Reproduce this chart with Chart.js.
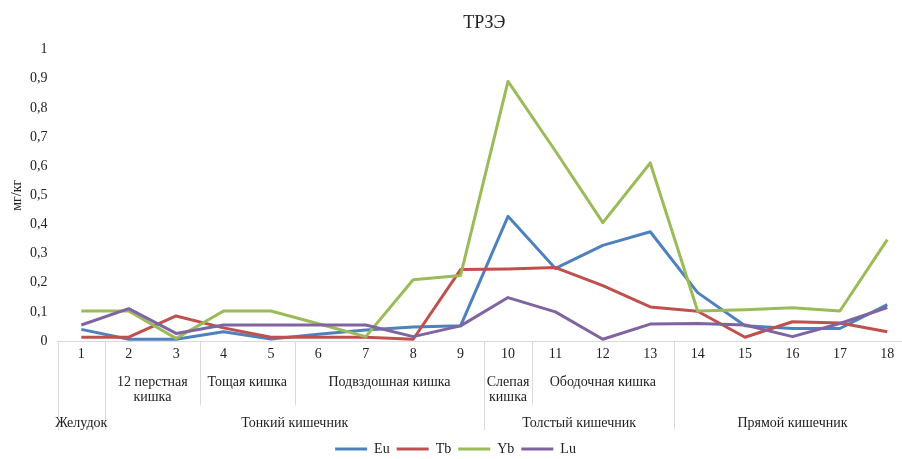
<!DOCTYPE html>
<html>
<head>
<meta charset="utf-8">
<title>ТРЗЭ</title>
<script src="https://cdn.jsdelivr.net/npm/chart.js@4.4.1/dist/chart.umd.min.js"></script>
<style>
  html, body { margin: 0; padding: 0; background: #fff; overflow: hidden; }
  #wrap { width: 911px; height: 466px; }
</style>
</head>
<body>
<div id="wrap"><canvas id="chart" width="911" height="466"></canvas></div>
<script>
// Sample numbers along the digestive tract
const categories = ['1', '2', '3', '4', '5', '6', '7', '8', '9', '10', '11', '12', '13', '14', '15', '16', '17', '18'];

// мг/кг per sample
const euValues = [0.040, 0.006, 0.006, 0.032, 0.007, 0.023, 0.038, 0.048, 0.052, 0.428, 0.249, 0.328, 0.375, 0.166, 0.052, 0.043, 0.043, 0.125];
const tbValues = [0.013, 0.013, 0.086, 0.045, 0.013, 0.013, 0.013, 0.006, 0.245, 0.247, 0.252, 0.190, 0.117, 0.102, 0.013, 0.066, 0.062, 0.032];
const ybValues = [0.103, 0.103, 0.009, 0.103, 0.103, 0.059, 0.015, 0.210, 0.225, 0.891, 0.652, 0.406, 0.611, 0.103, 0.107, 0.114, 0.103, 0.348];
const luValues = [0.055, 0.111, 0.026, 0.055, 0.055, 0.055, 0.055, 0.015, 0.052, 0.149, 0.100, 0.006, 0.058, 0.060, 0.055, 0.015, 0.060, 0.115];

// Axis groups: first sample, last sample, text lines
const sectionGroups = [
  [2, 3, ['12 перстная', 'кишка']],
  [4, 5, ['Тощая кишка']],
  [6, 9, ['Подвздошная кишка']],
  [10, 10, ['Слепая', 'кишка']],
  [11, 13, ['Ободочная кишка']]
];
const organGroups = [
  [1, 1, 'Желудок'],
  [2, 9, 'Тонкий кишечник'],
  [10, 13, 'Толстый кишечник'],
  [14, 18, 'Прямой кишечник']
];

const FONT = '"Liberation Serif", "Times New Roman", serif';
const TEXT = '#222222';
const AXIS = '#d9d9d9';

Chart.defaults.font.family = FONT;
Chart.defaults.color = TEXT;

// Draws the multi-level category axis under the numbers
const groupAxisPlugin = {
  id: 'groupAxis',
  afterDraw(chart) {
    const { ctx, chartArea, scales: { x } } = chart;
    const half = (x.getPixelForValue(1) - x.getPixelForValue(0)) / 2;
    const center = i => x.getPixelForValue(i - 1);
    const leftEdge = i => center(i) - half;
    const base = chartArea.bottom;

    ctx.save();
    ctx.strokeStyle = AXIS;
    ctx.lineWidth = 1;
    const vline = (px, len) => {
      const xx = Math.round(px) + 0.5;
      ctx.beginPath();
      ctx.moveTo(xx, base);
      ctx.lineTo(xx, base + len);
      ctx.stroke();
    };
    sectionGroups.forEach(([a, b]) => { vline(leftEdge(a), 64); vline(leftEdge(b + 1), 64); });
    organGroups.forEach(([a, b]) => { vline(leftEdge(a), 89); vline(leftEdge(b + 1), 89); });

    ctx.fillStyle = TEXT;
    ctx.font = '14px ' + FONT;
    ctx.textAlign = 'center';
    ctx.textBaseline = 'middle';
    sectionGroups.forEach(([a, b, lines]) => {
      const cx = (center(a) + center(b)) / 2;
      lines.forEach((t, k) => ctx.fillText(t, cx, base + 41 + k * 15));
    });
    organGroups.forEach(([a, b, t]) => {
      ctx.fillText(t, (center(a) + center(b)) / 2, base + 82);
    });
    ctx.restore();
  }
};

function makeSeries(label, data, color, order) {
  return {
    label: label,
    data: data,
    borderColor: color,
    backgroundColor: color,
    borderWidth: 3,
    pointRadius: 0,
    tension: 0,
    borderJoinStyle: 'round',
    order: order
  };
}

new Chart(document.getElementById('chart'), {
  type: 'line',
  data: {
    labels: categories,
    datasets: [
      makeSeries('Eu', euValues, '#4f81bd', 4),
      makeSeries('Tb', tbValues, '#c0504d', 3),
      makeSeries('Yb', ybValues, '#9bbb59', 2),
      makeSeries('Lu', luValues, '#8064a2', 1)
    ]
  },
  options: {
    responsive: false,
    animation: false,
    layout: { padding: 0 },
    plugins: {
      title: {
        display: true,
        text: 'ТРЗЭ',
        fullSize: false,
        color: TEXT,
        font: { size: 18, weight: 'normal' },
        padding: { top: 12, bottom: 16 }
      },
      legend: {
        position: 'bottom',
        labels: {
          usePointStyle: true,
          pointStyle: 'line',
          pointStyleWidth: 32,
          padding: 7,
          color: TEXT,
          font: { size: 14 },
          sort: (a, b) => a.datasetIndex - b.datasetIndex
        }
      },
      tooltip: { enabled: false }
    },
    scales: {
      x: {
        offset: true,
        grid: { display: false, drawTicks: false },
        border: { display: true, color: AXIS, width: 1 },
        ticks: { color: TEXT, font: { size: 14 }, padding: 5, maxRotation: 0, autoSkip: false },
        afterFit: scale => { scale.height = 94; }
      },
      y: {
        min: 0,
        max: 1,
        grid: { display: false, drawTicks: false },
        border: { display: false },
        ticks: {
          stepSize: 0.1,
          color: TEXT,
          font: { size: 14 },
          padding: 10,
          callback: v => String(Math.round(v * 10) / 10).replace('.', ',')
        },
        title: {
          display: true,
          text: 'мг/кг',
          color: TEXT,
          font: { size: 14 },
          padding: { top: 9, bottom: 0 }
        },
        afterFit: scale => { scale.width = 57.6; }
      }
    }
  },
  plugins: [groupAxisPlugin]
});
</script>
</body>
</html>
